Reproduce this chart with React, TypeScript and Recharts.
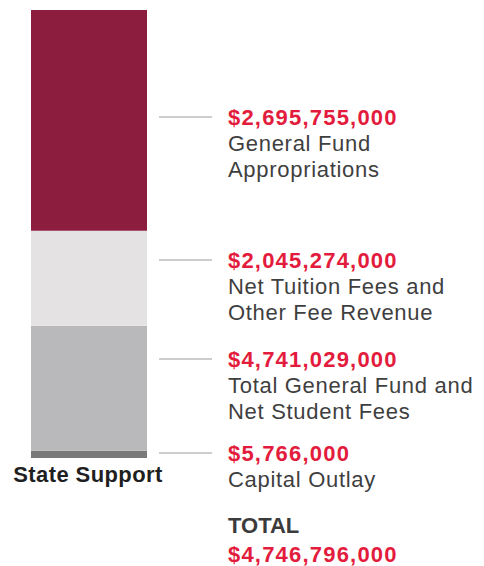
import React from 'react';
import { BarChart, Bar, XAxis, YAxis } from 'recharts';

// values (top segment first)
const categories = ['State Support'];
const segmentKeys = ['general', 'tuition', 'combined', 'capital'];
// share of the bar height each segment takes in the picture, %
const segmentShares = [49.3, 21.2, 27.9, 1.6];
const amounts = ['$2,695,755,000', '$2,045,274,000', '$4,741,029,000', '$5,766,000'];
const captions = [
  ['General Fund', 'Appropriations'],
  ['Net Tuition Fees and', 'Other Fee Revenue'],
  ['Total General Fund and', 'Net Student Fees'],
  ['Capital Outlay'],
];
const totalLabel = 'TOTAL';
const totalAmount = '$4,746,796,000';

const colors = ['#8c1d3f', '#e4e2e3', '#b9b9bb', '#7a7a7b'];
const RED = '#e31b3c';
const FONT = '"Liberation Sans", Arial, Helvetica, sans-serif';

// leader line heights for each annotation block (layout only)
const leaderY = [117, 260, 359, 453];

const chartData = categories.map((name) => {
  const row: Record<string, string | number> = { name };
  segmentKeys.forEach((k, i) => {
    row[k] = segmentShares[i];
  });
  return row;
});

const makeLabel = (i: number) => (props: any) => {
  const right = Number(props.x) + Number(props.width);
  const ly = leaderY[i];
  const tx = right + 81;
  const last = i === segmentKeys.length - 1;
  const capEnd = ly + 7.5 + 26 * captions[i].length;
  return (
    <g key={`ann-${i}`}>
      <line x1={right + 12} x2={right + 65} y1={ly} y2={ly} stroke="#9b9b9b" strokeWidth={1} />
      <text x={tx} y={ly + 7.5} fill={RED} fontSize={22} fontWeight="bold" letterSpacing={1.2} fontFamily={FONT}>
        {amounts[i]}
      </text>
      {captions[i].map((c, j) => (
        <text key={j} x={tx} y={ly + 7.5 + 26 * (j + 1)} fill="#3f3f3f" fontSize={22} letterSpacing={0.7} fontFamily={FONT}>
          {c}
        </text>
      ))}
      {last && (
        <>
          <text x={tx} y={capEnd + 46} fill="#3b3b3b" fontSize={22} fontWeight="bold" fontFamily={FONT}>
            {totalLabel}
          </text>
          <text x={tx} y={capEnd + 75} fill={RED} fontSize={22} fontWeight="bold" letterSpacing={1.2} fontFamily={FONT}>
            {totalAmount}
          </text>
        </>
      )}
    </g>
  );
};

const CategoryTick = (props: any) => {
  const { x, y, payload } = props;
  return (
    <text x={Number(x) - 1} y={Number(y) + 24} textAnchor="middle" fill="#1f1f1f" fontSize={22} fontWeight="bold" letterSpacing={0.4} fontFamily={FONT}>
      {payload.value}
    </text>
  );
};

export default function App() {
  const bottomUp = segmentKeys.map((k, i) => ({ k, i })).reverse();
  return (
    <div style={{ position: 'absolute', left: 0, top: 0, width: 484, height: 566, background: '#fff', fontFamily: FONT }}>
      <BarChart
        width={484}
        height={566}
        data={chartData}
        margin={{ top: 10, right: 337, bottom: 78, left: 31 }}
        barCategoryGap={0}
        barGap={0}
      >
        <XAxis dataKey="name" height={30} axisLine={false} tickLine={false} tickSize={0} tickMargin={0} tick={<CategoryTick />} interval={0} />
        <YAxis hide domain={[0, 100]} />
        {bottomUp.map(({ k, i }) => (
          <Bar key={k} dataKey={k} stackId="s" fill={colors[i]} isAnimationActive={false} label={makeLabel(i)} />
        ))}
      </BarChart>
    </div>
  );
}
